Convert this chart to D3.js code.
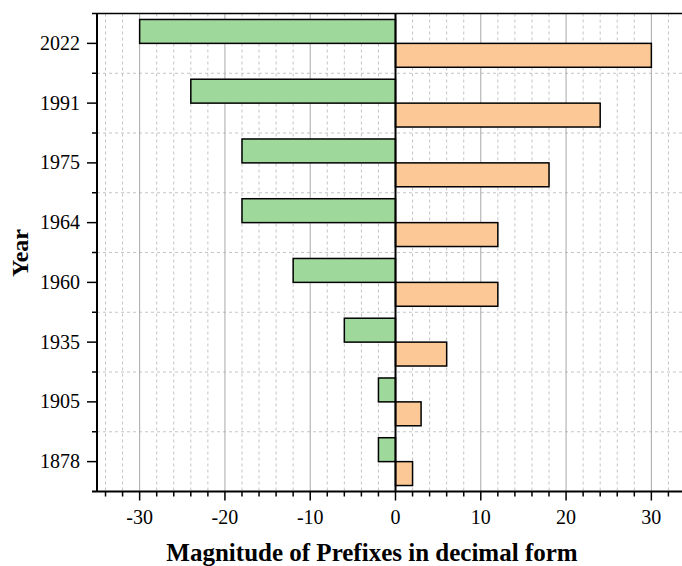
<!DOCTYPE html>
<html>
<head>
<meta charset="utf-8">
<script src="https://cdn.jsdelivr.net/npm/d3@7"></script>
<style>
  body { margin: 0; background: #fff; }
  text { font-family: "Liberation Serif", "Times New Roman", serif; }
</style>
</head>
<body>
<div class="visArea"></div>
<script>
// data, bottom to top
var years = ['1878', '1905', '1935', '1960', '1964', '1975', '1991', '2022'];
var negValues = [-2, -2, -6, -12, -18, -18, -24, -30];
var posValues = [2, 3, 6, 12, 12, 18, 24, 30];
var xTicks = [-30, -20, -10, 0, 10, 20, 30];

var width = 682;
var height = 566;
var plotLeft = 97, plotTop = 13.5, plotBottom = 491.5, plotRight = 694;

var svg = d3.select('.visArea')
  .append('svg')
  .attr('width', width)
  .attr('height', height);

var x = d3.scaleLinear().domain([-35, 35]).range([plotLeft, plotRight]);
var y = d3.scaleBand().domain(years.slice().reverse()).range([plotTop, plotBottom]).padding(0);
var barH = y.bandwidth() * 0.4;

// minor grid (every 2)
var minorX = d3.range(-34, 35, 2).filter(d => d % 10 !== 0);
svg.append('g').selectAll('line')
  .data(minorX)
  .enter().append('line')
  .attr('x1', d => x(d)).attr('x2', d => x(d))
  .attr('y1', plotTop).attr('y2', plotBottom)
  .style('stroke', '#c4c4c4')
  .style('stroke-width', 1)
  .style('stroke-dasharray', '3,3');

// horizontal grid at band edges
svg.append('g').selectAll('line')
  .data(years.slice(1))
  .enter().append('line')
  .attr('x1', plotLeft).attr('x2', plotRight)
  .attr('y1', d => y(d) + y.bandwidth()).attr('y2', d => y(d) + y.bandwidth())
  .style('stroke', '#c4c4c4')
  .style('stroke-width', 1)
  .style('stroke-dasharray', '3,3');

// major grid
svg.append('g').selectAll('line')
  .data(xTicks.filter(d => d !== 0))
  .enter().append('line')
  .attr('x1', d => x(d)).attr('x2', d => x(d))
  .attr('y1', plotTop).attr('y2', plotBottom)
  .style('stroke', '#a8a8a8')
  .style('stroke-width', 1);

// bars
svg.append('g').selectAll('rect')
  .data(years)
  .enter().append('rect')
  .attr('x', (d, i) => x(negValues[i]))
  .attr('y', d => y(d) + y.bandwidth() / 2 - barH)
  .attr('width', (d, i) => x(0) - x(negValues[i]))
  .attr('height', barH)
  .style('fill', '#9ed89b')
  .style('stroke', '#000')
  .style('stroke-width', 1.5);

svg.append('g').selectAll('rect')
  .data(years)
  .enter().append('rect')
  .attr('x', x(0))
  .attr('y', d => y(d) + y.bandwidth() / 2)
  .attr('width', (d, i) => x(posValues[i]) - x(0))
  .attr('height', barH)
  .style('fill', '#fcc996')
  .style('stroke', '#000')
  .style('stroke-width', 1.5);

// zero line
svg.append('line')
  .attr('x1', x(0)).attr('x2', x(0))
  .attr('y1', plotTop).attr('y2', plotBottom)
  .style('stroke', '#000')
  .style('stroke-width', 2);

// top border
svg.append('line')
  .attr('x1', plotLeft - 5).attr('x2', plotRight)
  .attr('y1', plotTop).attr('y2', plotTop)
  .style('stroke', '#000')
  .style('stroke-width', 1.5);

// x axis
var xAxis = svg.append('g').attr('transform', 'translate(0,' + plotBottom + ')');
xAxis.append('g').selectAll('line')
  .data(d3.range(-34, 35, 2))
  .enter().append('line')
  .attr('x1', d => x(d)).attr('x2', d => x(d))
  .attr('y1', 0).attr('y2', d => d % 10 === 0 ? 9 : 5)
  .style('stroke', '#000')
  .style('stroke-width', 1.5);
xAxis.append('g').selectAll('text')
  .data(xTicks)
  .enter().append('text')
  .attr('x', d => x(d))
  .attr('y', 32)
  .attr('text-anchor', 'middle')
  .style('font-size', '20px')
  .text(d => d);
xAxis.append('line')
  .attr('x1', plotLeft - 5).attr('x2', plotRight)
  .style('stroke', '#000')
  .style('stroke-width', 2);

// y axis
var yAxis = svg.append('g');
yAxis.append('g').selectAll('line')
  .data(years)
  .enter().append('line')
  .attr('x1', plotLeft - 10).attr('x2', plotLeft)
  .attr('y1', d => y(d) + y.bandwidth() / 2).attr('y2', d => y(d) + y.bandwidth() / 2)
  .style('stroke', '#000')
  .style('stroke-width', 1.5);
yAxis.append('g').selectAll('line')
  .data(years.slice(1))
  .enter().append('line')
  .attr('x1', plotLeft - 5).attr('x2', plotLeft)
  .attr('y1', d => y(d) + y.bandwidth()).attr('y2', d => y(d) + y.bandwidth())
  .style('stroke', '#000')
  .style('stroke-width', 1.5);
yAxis.append('g').selectAll('text')
  .data(years)
  .enter().append('text')
  .attr('x', plotLeft - 17)
  .attr('y', d => y(d) + y.bandwidth() / 2)
  .attr('dy', '0.33em')
  .attr('text-anchor', 'end')
  .style('font-size', '20px')
  .text(d => d);
yAxis.append('line')
  .attr('x1', plotLeft).attr('x2', plotLeft)
  .attr('y1', plotTop).attr('y2', plotBottom)
  .style('stroke', '#000')
  .style('stroke-width', 2);

// axis titles
svg.append('text')
  .attr('x', 372)
  .attr('y', 561)
  .attr('text-anchor', 'middle')
  .style('font-size', '25px')
  .style('font-weight', 'bold')
  .text('Magnitude of Prefixes in decimal form');

svg.append('text')
  .attr('transform', 'translate(28,253) rotate(-90)')
  .attr('text-anchor', 'middle')
  .style('font-size', '24px')
  .style('font-weight', 'bold')
  .text('Year');
</script>
</body>
</html>
